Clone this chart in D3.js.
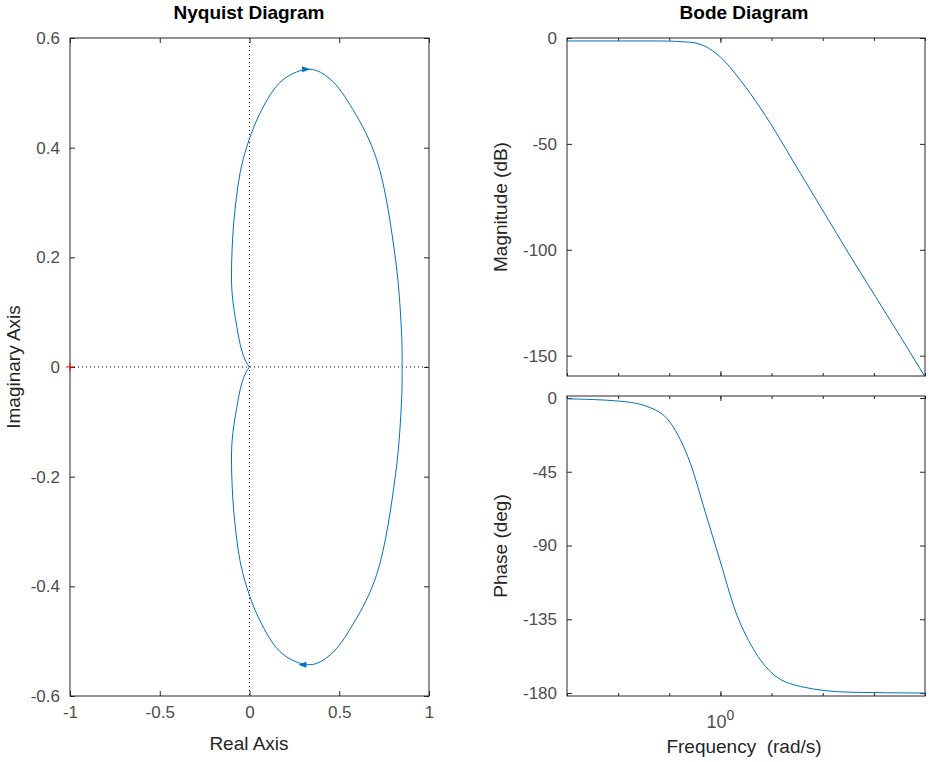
<!DOCTYPE html>
<html><head><meta charset="utf-8">
<script src="https://cdn.jsdelivr.net/npm/d3@7"></script>
<style>
body{margin:0;background:#fff;font-family:"Liberation Sans",Arial,sans-serif}
.tick text{fill:#4d4d4d;font-size:17px}
.domain,.tick line{stroke:#262626}
</style></head><body>
<svg id="c" width="929" height="762"></svg>
<script>
// Nyquist lower branch (omega > 0), real/imag pairs
const nyqRe = [0.85,0.848,0.814,0.709,0.577,0.45,0.337,0.187,0.068,-0.036,-0.081,-0.099,-0.097,-0.071,-0.044,-0.02,0]
const nyqIm = [0,-0.055,-0.195,-0.378,-0.469,-0.525,-0.543,-0.524,-0.469,-0.378,-0.286,-0.195,-0.135,-0.074,-0.031,-0.01,0]
// Bode, log10(omega)
const magW = [-0.45,-0.176,-0.088,-0.044,0,0.059,0.117,0.235,0.381,0.528,0.6]
const magDb = [-1.4,-1.4,-2,-4,-9,-20,-33,-64,-103,-141,-160]
const phW = [-0.45,-0.293,-0.205,-0.147,-0.088,-0.044,0,0.044,0.088,0.147,0.235,0.381,0.6]
const phDeg = [-0.5,-2,-6,-15,-40,-70,-100,-130,-150,-167,-176,-179.5,-180]
const nyqTicksX = [-1,-0.5,0,0.5,1]
const nyqTicksY = [-0.6,-0.4,-0.2,0,0.2,0.4,0.6]
const magTicks = [0,-50,-100,-150]
const phTicks = [0,-45,-90,-135,-180]
const minorW = [-0.45,-0.3,-0.15,0,0.15,0.3,0.45,0.6]

const svg = d3.select('#c')
const blue = '#0072bd'

function box(g, r) {
  g.append('rect').attr('x', r[0]).attr('y', r[1]).attr('width', r[2]-r[0]).attr('height', r[3]-r[1])
    .attr('fill', 'none').attr('stroke', '#262626')
}
function fmt(v){ return String(v) }

// Nyquist
const nx = d3.scaleLinear().domain([-1, 1]).range([70, 429])
const ny = d3.scaleLinear().domain([-0.6, 0.6]).range([696, 38])
const ng = svg.append('g')
ng.append('g').attr('transform', 'translate(0,696)').call(d3.axisBottom(nx).tickValues(nyqTicksX).tickSize(-5).tickPadding(10).tickFormat(fmt))
ng.append('g').attr('transform', 'translate(0,38)').call(d3.axisTop(nx).tickValues(nyqTicksX).tickSize(-5).tickFormat(''))
ng.append('g').attr('transform', 'translate(70,0)').call(d3.axisLeft(ny).tickValues(nyqTicksY).tickSize(-5).tickPadding(10).tickFormat(fmt))
ng.append('g').attr('transform', 'translate(429,0)').call(d3.axisRight(ny).tickValues(nyqTicksY).tickSize(-5).tickFormat(''))
ng.selectAll('.domain').remove()
box(ng, [70, 38, 429, 696])
ng.append('line').attr('x1', nx(0)).attr('x2', nx(0)).attr('y1', 38).attr('y2', 696).attr('stroke', '#000').attr('stroke-dasharray', '1,3')
ng.append('line').attr('x1', 70).attr('x2', 429).attr('y1', ny(0)).attr('y2', ny(0)).attr('stroke', '#000').attr('stroke-dasharray', '1,3')
const lower = nyqRe.map((r, i) => [r, nyqIm[i]])
const upper = lower.map(p => [p[0], -p[1]])
const nline = d3.line().x(d => nx(d[0])).y(d => ny(d[1])).curve(d3.curveCatmullRom)
ng.append('path').attr('d', nline(lower)).attr('fill', 'none').attr('stroke', blue)
ng.append('path').attr('d', nline(upper)).attr('fill', 'none').attr('stroke', blue)
function arrow(x, y, dir) {
  const px = nx(x), py = ny(y)
  ng.append('path').attr('d', `M${px+dir*5},${py} L${px-dir*3},${py-3} L${px-dir*3},${py+3}Z`).attr('fill', blue)
}
arrow(0.31, 0.543, 1)
arrow(0.3, -0.543, -1)
ng.append('path').attr('d', `M${nx(-1)-4},${ny(0)}h8M${nx(-1)},${ny(0)-4}v8`).attr('stroke', 'red')
ng.append('text').attr('x', 249).attr('y', 19).attr('text-anchor', 'middle').attr('font-weight', 'bold').attr('font-size', 19).text('Nyquist Diagram')
ng.append('text').attr('x', 249).attr('y', 750).attr('text-anchor', 'middle').attr('font-size', 19).attr('fill', '#262626').text('Real Axis')
ng.append('text').attr('transform', 'translate(20,367) rotate(-90)').attr('text-anchor', 'middle').attr('font-size', 19).attr('fill', '#262626').text('Imaginary Axis')

// Bode
const bx = d3.scaleLinear().domain([-0.45, 0.6]).range([567, 925])
const my = d3.scaleLinear().domain([-159.6, 0]).range([376, 38])
const py = d3.scaleLinear().domain([-181.8, 1.2]).range([696, 396])
const bg = svg.append('g')
function panel(yScale, ticks, top, bot, wArr, vArr, lab, labY) {
  const g = bg.append('g')
  g.append('g').attr('transform', `translate(0,${bot})`).call(d3.axisBottom(bx).tickValues(minorW).tickSize(-3).tickFormat(''))
  g.append('g').attr('transform', `translate(0,${top})`).call(d3.axisTop(bx).tickValues(minorW).tickSize(-3).tickFormat(''))
  g.append('g').attr('transform', `translate(0,${bot})`).call(d3.axisBottom(bx).tickValues([0]).tickSize(-5).tickFormat(''))
  g.append('g').attr('transform', `translate(0,${top})`).call(d3.axisTop(bx).tickValues([0]).tickSize(-5).tickFormat(''))
  g.append('g').attr('transform', 'translate(567,0)').call(d3.axisLeft(yScale).tickValues(ticks).tickSize(-5).tickPadding(10).tickFormat(fmt))
  g.append('g').attr('transform', 'translate(925,0)').call(d3.axisRight(yScale).tickValues(ticks).tickSize(-5).tickFormat(''))
  g.selectAll('.domain').remove()
  box(g, [567, top, 925, bot])
  const l = d3.line().x((d, i) => bx(wArr[i])).y(d => yScale(d)).curve(d3.curveMonotoneX)
  g.append('path').attr('d', l(vArr)).attr('fill', 'none').attr('stroke', blue)
  g.append('text').attr('transform', `translate(507,${labY}) rotate(-90)`).attr('text-anchor', 'middle').attr('font-size', 19).attr('fill', '#262626').text(lab)
}
panel(my, magTicks, 38, 376, magW, magDb, 'Magnitude (dB)', 207)
panel(py, phTicks, 396, 696, phW, phDeg, 'Phase (deg)', 546)
const t = bg.append('text').attr('x', bx(0)).attr('y', 728).attr('text-anchor', 'middle').attr('fill', '#4d4d4d').attr('font-size', 18)
t.append('tspan').text('10')
t.append('tspan').attr('dy', -8).attr('font-size', 14).text('0')
bg.append('text').attr('x', 744).attr('y', 753).attr('text-anchor', 'middle').attr('font-weight', 'bold').attr('font-size', 19).attr('y', 19).text('Bode Diagram')
bg.append('text').attr('x', 744).attr('y', 753).attr('text-anchor', 'middle').attr('font-size', 19).attr('fill', '#262626').attr('xml:space', 'preserve').text('Frequency  (rad/s)')
</script></body></html>
